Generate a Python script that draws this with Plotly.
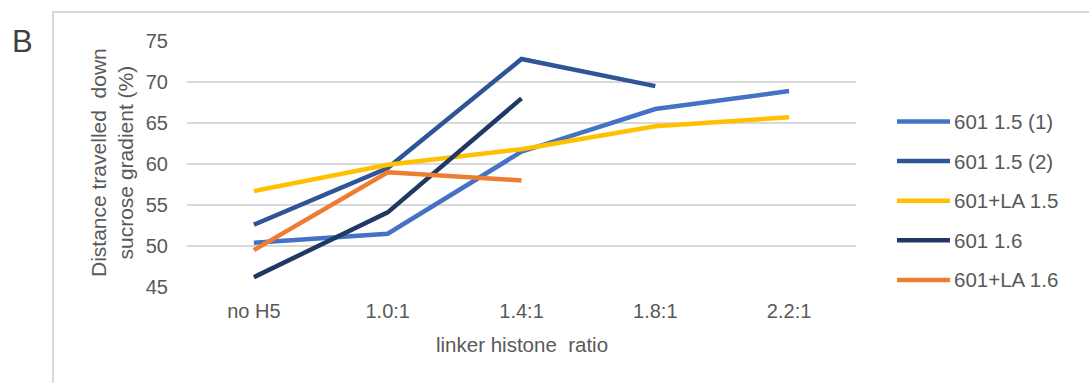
import plotly.graph_objects as go

# Linker histone ratio categories and measured sedimentation distances (%)
categories = ["no H5", "1.0:1", "1.4:1", "1.8:1", "2.2:1"]

s601_15_a = [50.4, 51.5, 61.5, 66.7, 68.9]
s601_15_b = [52.6, 59.5, 72.8, 69.5, None]
s601la_15 = [56.7, 59.9, 61.8, 64.6, 65.7]
s601_16 = [46.2, 54.1, 68.0, None, None]
s601la_16 = [49.5, 59.0, 58.0, None, None]

series_names = ["601 1.5 (1)", "601 1.5 (2)", "601+LA 1.5", "601 1.6", "601+LA 1.6"]
series_values = [s601_15_a, s601_15_b, s601la_15, s601_16, s601la_16]
series_colors = ["#4472C4", "#2F5597", "#FFC000", "#203864", "#ED7D31"]

FONT = "Liberation Sans, Arial, sans-serif"
GREY = "#595959"

fig = go.Figure()
for name, vals, color in zip(series_names, series_values, series_colors):
    fig.add_trace(go.Scatter(
        x=categories, y=vals, name=name, mode="lines",
        line=dict(color=color, width=4.5, shape="linear"),
        showlegend=False,
    ))

W, H = 1089, 383
L, R, T, B = 187, 233, 41, 96
pw, ph = W - L - R, H - T - B

def px_x(p):
    return (p - L) / pw

def px_y(p):
    return (H - B - p) / ph

shapes = [
    # outer frame around the panel
    dict(type="rect", xref="paper", yref="paper",
         x0=px_x(53), x1=px_x(1100), y0=px_y(400), y1=px_y(12),
         line=dict(color="#D9D9D9", width=2), fillcolor="rgba(0,0,0,0)",
         layer="below"),
]
annotations = [
    dict(text="B", xref="paper", yref="paper", x=px_x(22), y=px_y(42),
         xanchor="center", yanchor="middle", showarrow=False,
         font=dict(size=31, color="#404040", family=FONT)),
    dict(text="Distance travelled  down<br>sucrose gradient (%)",
         xref="paper", yref="paper", x=px_x(112), y=px_y(163),
         xanchor="center", yanchor="middle", showarrow=False, textangle=-90,
         font=dict(size=21, color=GREY, family=FONT)),
    dict(text="linker histone  ratio", xref="paper", yref="paper",
         x=0.5, y=px_y(344), xanchor="center", yanchor="middle",
         showarrow=False, font=dict(size=20.5, color=GREY, family=FONT)),
]

# legend: a coloured line sample followed by the series name
leg_top, leg_step = 121.5, 39.6
for i, (name, color) in enumerate(zip(series_names, series_colors)):
    yy = px_y(leg_top + i * leg_step)
    shapes.append(dict(type="line", xref="paper", yref="paper",
                       x0=px_x(897), x1=px_x(950), y0=yy, y1=yy,
                       line=dict(color=color, width=4.5)))
    annotations.append(dict(text=name, xref="paper", yref="paper",
                            x=px_x(952), y=yy, xanchor="left", yanchor="middle",
                            showarrow=False,
                            font=dict(size=20.5, color=GREY, family=FONT)))

fig.update_layout(
    width=W, height=H,
    margin=dict(l=L, r=R, t=T, b=B, pad=0),
    paper_bgcolor="white", plot_bgcolor="white",
    font=dict(family=FONT, color=GREY, size=20),
    showlegend=False,
    xaxis=dict(
        type="category", range=[-0.5, 4.5],
        showgrid=False, zeroline=False, showline=False,
        ticks="", tickfont=dict(size=20, color=GREY), ticklabelstandoff=10,
    ),
    yaxis=dict(
        range=[45, 75], tickvals=[45, 50, 55, 60, 65, 70, 75],
        showgrid=True, gridcolor="#D9D9D9", gridwidth=2,
        zeroline=False, showline=False, ticks="",
        tickfont=dict(size=20, color=GREY), ticklabelstandoff=18,
    ),
    shapes=shapes,
    annotations=annotations,
)

fig.write_html("out.html")
